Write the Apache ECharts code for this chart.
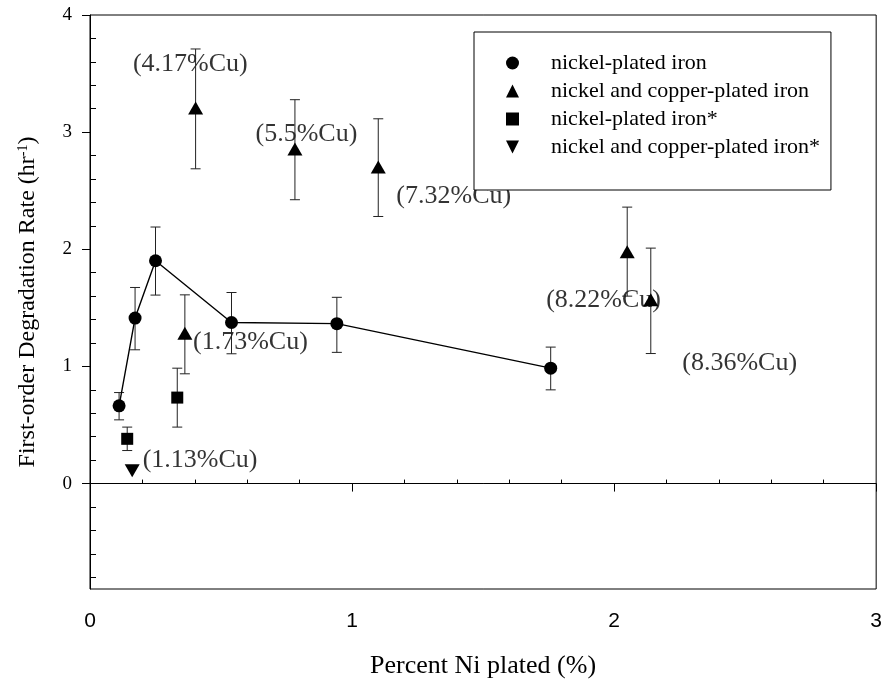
<!DOCTYPE html>
<html>
<head>
<meta charset="utf-8">
<script src="https://cdn.jsdelivr.net/npm/echarts@6/dist/echarts.min.js"></script>
<style>
  html, body { margin: 0; padding: 0; background: #fff; }
  #chart { width: 885px; height: 687px; }
</style>
</head>
<body>
<div id="chart"></div>
<script>
// rows: [percent Ni, rate, error low, error high]
const niIron = [
  [0.111, 0.664, 0.544, 0.777],
  [0.172, 1.413, 1.142, 1.674],
  [0.250, 1.902, 1.609, 2.190],
  [0.540, 1.375, 1.108, 1.631],
  [0.942, 1.365, 1.120, 1.590],
  [1.758, 0.985, 0.800, 1.165],
];
const niCuIron = [
  [0.403, 3.206, 2.687, 3.710],
  [0.782, 2.856, 2.423, 3.277],
  [1.100, 2.702, 2.280, 3.114],
  [2.050, 1.980, 1.600, 2.360],
  [2.140, 1.570, 1.110, 2.010],
  [0.362, 1.284, 0.937, 1.611],
];
const niIronStar = [
  [0.142, 0.382, 0.282, 0.482],
  [0.333, 0.734, 0.482, 0.985],
];
const niCuIronStar = [
  [0.161, 0.110],
];
// copper content notes: [text, x, y]
const cuNotes = [
  ['(4.17%Cu)', 0.383, 3.584],
  ['(5.5%Cu)', 0.826, 2.986],
  ['(7.32%Cu)', 1.388, 2.451],
  ['(8.22%Cu)', 1.960, 1.569],
  ['(8.36%Cu)', 2.479, 1.031],
  ['(1.73%Cu)', 0.612, 1.206],
  ['(1.13%Cu)', 0.420, 0.202],
];
const yMajor = [0, 1, 2, 3, 4];
const yMinor = [-0.8, -0.6, -0.4, -0.2, 0.2, 0.4, 0.6, 0.8, 1.2, 1.4, 1.6, 1.8,
  2.2, 2.4, 2.6, 2.8, 3.2, 3.4, 3.6, 3.8];
const xMinor = [0.2, 0.4, 0.6, 0.8, 1.2, 1.4, 1.6, 1.8, 2.2, 2.4, 2.6, 2.8];

const serif = '"Times New Roman", "Liberation Serif", serif';
const sans = 'Arial, "Liberation Sans", sans-serif';

const names = [
  'nickel-plated iron',
  'nickel and copper-plated iron',
  'nickel-plated iron*',
  'nickel and copper-plated iron*',
];

// path symbols keep their aspect in the legend
const triUp = 'path://M5,0L10,10L0,10Z';
const triDown = 'path://M0,0L10,0L5,10Z';
const square = 'path://M0,0L10,0L10,10L0,10Z';

function errorBars(params, api) {
  const x = api.value(0);
  const lo = api.coord([x, api.value(2)]);
  const hi = api.coord([x, api.value(3)]);
  const w = 5;
  const st = { stroke: '#222', lineWidth: 1 };
  return {
    type: 'group',
    children: [
      { type: 'line', shape: { x1: lo[0], y1: lo[1], x2: hi[0], y2: hi[1] }, style: st },
      { type: 'line', shape: { x1: lo[0] - w, y1: lo[1], x2: lo[0] + w, y2: lo[1] }, style: st },
      { type: 'line', shape: { x1: hi[0] - w, y1: hi[1], x2: hi[0] + w, y2: hi[1] }, style: st },
    ],
  };
}

let myChart = echarts.init(document.getElementById('chart'));
let option = {
  animation: false,
  backgroundColor: '#fff',
  grid: {
    left: 90,
    top: 15,
    right: 8,
    bottom: 98,
    show: true,
    borderColor: '#000',
    borderWidth: 1,
  },
  legend: {
    data: names,
    orient: 'vertical',
    left: 474,
    top: 32,
    padding: [20, 11, 32, 32],
    itemWidth: 13,
    itemHeight: 13,
    itemGap: 6,
    borderColor: '#000',
    borderWidth: 1,
    backgroundColor: '#fff',
    selectedMode: false,
    formatter: name => '{g|}' + name,
    textStyle: {
      fontFamily: serif,
      fontSize: 22,
      lineHeight: 22,
      color: '#000',
      rich: { g: { width: 27 } },
    },
  },
  xAxis: [
    {
      type: 'value',
      min: 0,
      max: 3,
      interval: 1,
      name: 'Percent Ni plated (%)',
      nameLocation: 'middle',
      nameGap: 64,
      nameTextStyle: { fontFamily: serif, fontSize: 26, color: '#000' },
      axisLine: { show: true, lineStyle: { color: '#000', width: 1 } },
      axisTick: { show: true, length: 8, lineStyle: { color: '#000' } },
      axisLabel: { fontFamily: sans, fontSize: 21, color: '#000', margin: 22 },
      splitLine: { show: false },
    },
    {
      type: 'value',
      min: 0,
      max: 3,
      position: 'bottom',
      offset: 0,
      axisLine: { show: false },
      axisTick: { show: true, inside: true, length: 4, customValues: xMinor, lineStyle: { color: '#000' } },
      axisLabel: { show: false },
      splitLine: { show: false },
    },
  ],
  yAxis: [
    {
      type: 'value',
      min: -0.9,
      max: 4,
      position: 'left',
      name: 'First-order Degradation Rate (hr{sup|-1})',
      nameLocation: 'middle',
      nameGap: 50,
      nameTextStyle: {
        fontFamily: serif,
        fontSize: 24,
        color: '#000',
        rich: {
          sup: { fontFamily: serif, fontSize: 14, color: '#000', verticalAlign: 'top', padding: [0, 0, 10, 0] },
        },
      },
      axisLine: { show: true, lineStyle: { color: '#000', width: 1 } },
      axisTick: { show: true, length: 8, customValues: yMajor, lineStyle: { color: '#000' } },
      axisLabel: { fontFamily: serif, fontSize: 19, color: '#000', margin: 18, customValues: yMajor },
      splitLine: { show: false },
    },
    {
      type: 'value',
      min: -0.9,
      max: 4,
      position: 'left',
      offset: 0,
      axisLine: { show: false },
      axisTick: { show: true, inside: true, length: 6, customValues: yMinor, lineStyle: { color: '#000' } },
      axisLabel: { show: false },
      splitLine: { show: false },
    },
  ],
  series: [
    {
      name: 'notes',
      type: 'scatter',
      silent: true,
      z: 1,
      symbolSize: 0,
      data: cuNotes.map(d => ({ value: [d[1], d[2]], name: d[0] })),
      label: {
        show: true,
        position: 'inside',
        formatter: p => p.name,
        fontFamily: serif,
        fontSize: 26,
        color: '#000',
      },
    },
    {
      name: 'error bars',
      type: 'custom',
      silent: true,
      z: 3,
      renderItem: errorBars,
      encode: { x: 0, y: [1, 2, 3] },
      data: [...niIron, ...niCuIron, ...niIronStar],
    },
    {
      name: 'nickel-plated iron line',
      type: 'line',
      silent: true,
      z: 3,
      symbol: 'none',
      lineStyle: { color: '#000', width: 1.4 },
      data: niIron.map(d => [d[0], d[1]]),
    },
    {
      name: names[0],
      type: 'scatter',
      z: 4,
      symbol: 'circle',
      symbolSize: 13,
      itemStyle: { color: '#000', opacity: 1 },
      data: niIron.map(d => [d[0], d[1]]),
    },
    {
      name: names[1],
      type: 'scatter',
      z: 4,
      symbol: triUp,
      symbolSize: [15, 13],
      itemStyle: { color: '#000', opacity: 1 },
      data: niCuIron.map(d => [d[0], d[1]]),
    },
    {
      name: names[2],
      type: 'scatter',
      z: 4,
      symbol: square,
      symbolSize: 12,
      itemStyle: { color: '#000', opacity: 1 },
      data: niIronStar.map(d => [d[0], d[1]]),
    },
    {
      name: names[3],
      type: 'scatter',
      z: 4,
      symbol: triDown,
      symbolSize: [15, 13],
      itemStyle: { color: '#000', opacity: 1 },
      data: niCuIronStar,
    },
  ],
};
myChart.setOption(option);
</script>
</body>
</html>
